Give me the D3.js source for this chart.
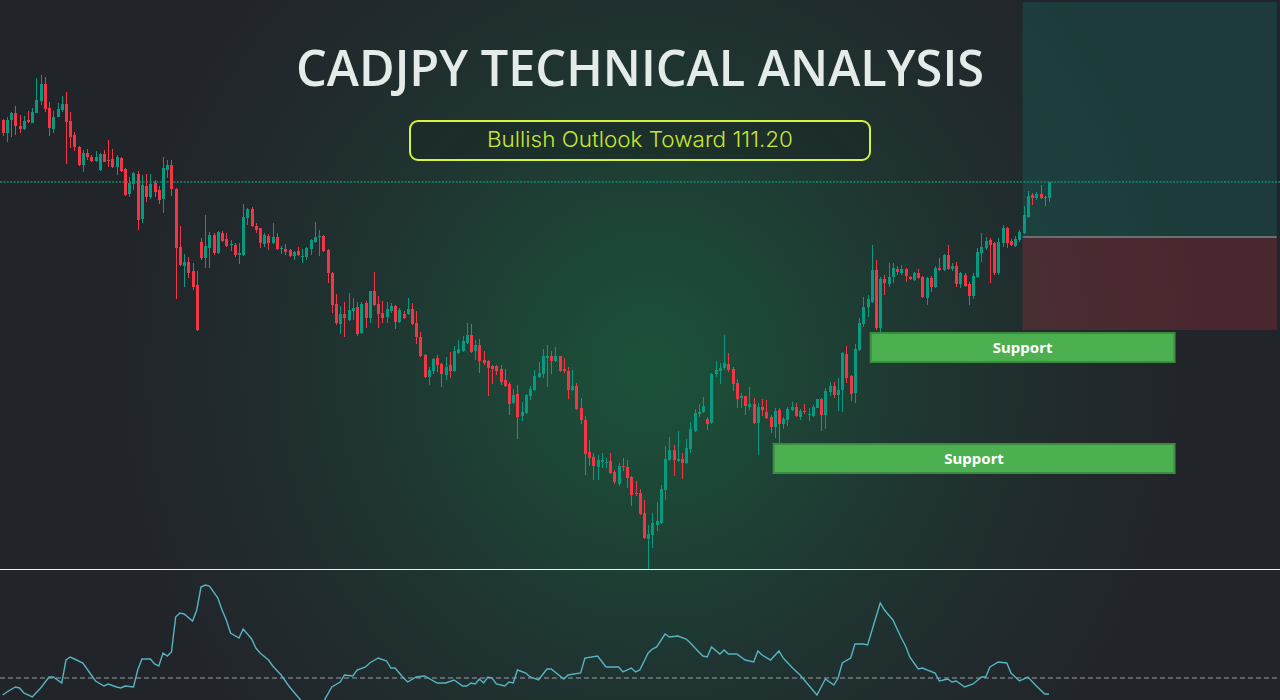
<!DOCTYPE html>
<html><head><meta charset="utf-8">
<script src="https://cdn.jsdelivr.net/npm/d3@7"></script>
<style>html,body{margin:0;padding:0;background:#212429;overflow:hidden}</style>
</head><body><svg id="c" width="1280" height="700"></svg>
<script>
// ---------- DATA (CADJPY candles, price in JPY) ----------
const openP = [
109.80,109.67,109.80,109.87,109.74,109.71,109.80,109.77,109.87,109.99,
110.16,109.92,109.71,109.83,109.90,109.96,109.79,109.65,109.53,109.35,
109.47,109.43,109.39,109.30,109.46,109.40,109.41,109.33,109.42,109.31,
109.06,109.16,109.26,108.81,109.14,109.03,109.17,109.10,109.01,109.30,
109.35,109.11,108.53,108.34,108.38,108.29,108.15,108.58,108.42,108.52,
108.65,108.47,108.67,108.61,108.55,108.55,108.45,108.45,108.82,108.91,
108.74,108.72,108.56,108.64,108.57,108.63,108.51,108.51,108.50,108.44,
108.49,108.43,108.43,108.51,108.58,108.63,108.64,108.50,108.27,107.96,
107.76,107.86,107.80,107.89,107.93,107.67,107.97,107.82,108.09,107.96,
107.87,107.83,107.89,107.94,107.78,107.86,107.86,107.91,107.77,107.63,
107.45,107.23,107.29,107.42,107.36,107.25,107.35,107.29,107.47,107.49,
107.57,107.65,107.49,107.55,107.40,107.39,107.34,107.34,107.31,107.20,
107.16,106.97,107.06,106.84,106.87,107.04,107.10,107.23,107.26,107.42,
107.44,107.39,107.44,107.31,107.29,107.10,107.14,106.92,106.80,106.48,
106.43,106.33,106.38,106.37,106.39,106.28,106.16,106.34,106.33,106.23,
106.07,106.07,105.87,105.61,105.65,105.75,105.77,106.10,106.40,106.50,
106.39,106.41,106.37,106.51,106.69,106.86,106.88,106.81,106.77,107.26,
107.29,107.32,107.36,107.31,107.17,107.02,107.04,106.93,106.96,106.77,
106.93,106.88,106.83,106.73,106.90,106.76,106.80,106.90,106.93,106.83,
106.89,106.85,106.84,106.92,107.01,106.85,107.08,107.14,107.05,107.10,
107.46,107.24,107.07,107.50,107.76,107.93,107.98,108.30,107.72,108.21,
108.16,108.23,108.31,108.27,108.31,108.23,108.20,108.27,108.23,108.02,
108.22,108.13,108.32,108.30,108.45,108.31,108.34,108.16,108.25,108.16,
108.04,108.23,108.47,108.52,108.60,108.57,108.27,108.57,108.72,108.59,
108.54,108.60,108.67,108.83,109.05,109.02,109.06,109.03,109.02];
const highP = [
109.81,109.83,109.88,109.94,109.85,109.84,109.89,109.92,110.22,110.25,
110.23,109.98,109.89,109.97,110.04,110.08,109.88,109.68,109.54,109.50,
109.51,109.45,109.49,109.47,109.50,109.60,109.51,109.45,109.43,109.32,
109.23,109.28,109.29,109.25,109.26,109.26,109.20,109.14,109.43,109.40,
109.40,109.12,108.74,108.46,108.43,108.37,108.29,108.62,108.85,108.68,
108.67,108.69,108.69,108.67,108.60,108.57,108.57,108.96,108.92,108.93,
108.77,108.72,108.67,108.66,108.77,108.67,108.54,108.56,108.51,108.49,
108.53,108.51,108.53,108.61,108.78,108.70,108.65,108.51,108.28,108.06,
107.94,107.98,108.07,108.02,107.98,107.98,107.99,108.09,108.28,108.04,
107.99,107.98,107.97,107.95,107.92,107.89,108.02,107.97,107.89,107.68,
107.46,107.33,107.42,107.45,107.37,107.43,107.48,107.54,107.60,107.64,
107.77,107.76,107.60,107.61,107.49,107.40,107.35,107.35,107.35,107.31,
107.18,107.11,107.15,106.98,107.06,107.14,107.30,107.38,107.51,107.55,
107.49,107.53,107.44,107.42,107.33,107.30,107.17,107.02,106.84,106.60,
106.47,106.45,106.47,106.42,106.47,106.30,106.37,106.42,106.40,106.24,
106.19,106.11,106.00,105.75,105.87,105.98,106.15,106.54,106.63,106.55,
106.69,106.47,106.61,106.78,106.91,106.96,107.03,106.83,107.27,107.39,
107.37,107.65,107.47,107.33,107.21,107.07,107.04,107.13,107.02,106.97,
107.01,107.00,106.85,106.92,106.92,106.83,106.93,106.98,106.97,106.91,
106.96,106.92,106.95,107.01,107.02,107.12,107.18,107.18,107.22,107.48,
107.54,107.25,107.56,107.82,108.03,108.05,108.55,108.40,108.23,108.25,
108.37,108.37,108.34,108.35,108.32,108.24,108.28,108.31,108.24,108.23,
108.24,108.34,108.42,108.46,108.55,108.37,108.38,108.28,108.27,108.18,
108.27,108.52,108.67,108.63,108.62,108.58,108.62,108.75,108.73,108.61,
108.64,108.70,108.94,109.09,109.07,109.08,109.15,109.04,109.18];
const lowP = [
109.64,109.58,109.63,109.65,109.67,109.70,109.77,109.77,109.87,109.95,
109.88,109.64,109.67,109.83,109.88,109.36,109.52,109.49,109.34,109.28,
109.40,109.38,109.38,109.29,109.38,109.33,109.32,109.25,109.28,109.04,
109.03,109.10,108.70,108.77,108.98,109.01,109.03,108.96,108.87,109.22,
109.04,108.01,108.34,108.13,108.22,108.10,107.69,108.40,108.32,108.32,
108.45,108.46,108.58,108.53,108.49,108.43,108.36,108.44,108.75,108.73,
108.67,108.52,108.53,108.50,108.56,108.50,108.46,108.45,108.43,108.40,
108.44,108.37,108.40,108.45,108.57,108.44,108.48,108.17,107.87,107.75,
107.66,107.63,107.79,107.80,107.64,107.66,107.72,107.77,107.94,107.72,
107.77,107.77,107.87,107.71,107.77,107.81,107.85,107.75,107.56,107.43,
107.22,107.15,107.26,107.28,107.13,107.20,107.22,107.28,107.46,107.48,
107.56,107.47,107.40,107.27,107.35,107.04,107.16,107.25,107.15,107.13,
106.85,106.96,106.61,106.79,106.86,107.00,107.09,107.22,107.22,107.13,
107.26,107.38,107.28,107.27,107.01,107.09,106.90,106.76,106.25,106.34,
106.20,106.20,106.32,106.32,106.26,106.16,106.14,106.29,106.12,105.94,
106.04,105.85,105.61,105.30,105.52,105.69,105.76,106.00,106.39,106.24,
106.38,106.21,106.36,106.47,106.68,106.83,106.87,106.70,106.76,107.23,
107.16,107.30,107.28,107.09,106.92,106.92,106.85,106.90,106.76,106.45,
106.84,106.81,106.67,106.62,106.53,106.71,106.74,106.89,106.83,106.80,
106.86,106.79,106.83,106.92,106.69,106.71,107.04,107.02,106.89,106.88,
107.17,106.99,106.97,107.49,107.73,107.83,107.97,107.70,107.57,108.05,
108.13,108.17,108.25,108.25,108.18,108.20,108.19,108.21,108.02,107.95,
108.08,108.12,108.29,108.29,108.30,108.29,108.13,108.12,108.13,107.95,
108.01,108.22,108.38,108.50,108.17,108.25,108.25,108.53,108.52,108.54,
108.53,108.58,108.66,108.82,108.95,109.00,109.01,108.94,108.98];
const closeP = [
109.67,109.80,109.87,109.74,109.71,109.79,109.78,109.88,110.00,110.16,
109.91,109.72,109.83,109.91,109.96,109.78,109.63,109.53,109.35,109.47,
109.43,109.39,109.43,109.46,109.38,109.39,109.33,109.43,109.29,109.05,
109.17,109.27,108.80,109.15,109.03,109.16,109.08,109.00,109.32,109.35,
109.11,108.52,108.35,108.38,108.27,108.13,107.70,108.42,108.54,108.65,
108.47,108.68,108.59,108.54,108.56,108.45,108.47,108.83,108.91,108.74,
108.70,108.57,108.65,108.57,108.63,108.51,108.52,108.48,108.44,108.48,
108.45,108.44,108.52,108.60,108.63,108.64,108.49,108.27,107.95,107.77,
107.86,107.82,107.90,107.92,107.66,107.96,107.82,108.09,107.95,107.86,
107.82,107.91,107.94,107.78,107.90,107.82,107.91,107.76,107.63,107.44,
107.23,107.30,107.41,107.35,107.26,107.33,107.29,107.49,107.51,107.59,
107.65,107.48,107.55,107.39,107.37,107.32,107.31,107.29,107.18,107.14,
106.96,107.05,106.83,106.88,107.05,107.11,107.24,107.27,107.44,107.44,
107.39,107.44,107.29,107.29,107.10,107.14,106.91,106.80,106.46,106.42,
106.34,106.40,106.40,106.38,106.27,106.18,106.34,106.33,106.22,106.05,
106.06,105.86,105.62,105.66,105.77,105.79,106.11,106.41,106.50,106.40,
106.41,106.37,106.52,106.71,106.87,106.88,106.94,106.76,107.26,107.30,
107.32,107.37,107.30,107.16,107.01,107.04,106.94,106.96,106.77,106.93,
106.90,106.82,106.73,106.89,106.76,106.81,106.91,106.93,106.84,106.89,
106.88,106.86,106.93,107.01,106.85,107.09,107.14,107.05,107.10,107.47,
107.22,107.06,107.51,107.77,107.93,108.01,108.30,107.72,108.21,108.17,
108.23,108.32,108.28,108.31,108.24,108.21,108.27,108.22,108.03,108.22,
108.13,108.32,108.30,108.45,108.31,108.34,108.16,108.27,108.14,108.04,
108.24,108.48,108.53,108.59,108.55,108.27,108.58,108.72,108.57,108.55,
108.61,108.68,108.85,109.04,109.02,109.06,109.02,109.02,109.18];

// Oscillator (lower pane): bar index and value
const oscIdx = [0,1,3,4,5,7,9,11,12,14,15,16,17,19,21,22,24,25,27,28,29,31,32,33,35,36,37,38,39,40,41,42,43,45,46,47,48,49,51,52,53,54,56,57,59,60,61,63,64,66,68,70,71,76,78,80,81,83,84,86,87,89,91,92,93,95,96,98,100,103,105,107,109,110,111,112,113,114,115,116,117,119,120,121,122,124,125,127,129,130,133,134,137,138,141,143,146,147,149,150,151,153,154,155,157,158,160,162,163,165,166,167,168,170,171,172,174,176,178,179,180,182,184,185,187,189,191,193,195,197,198,199,201,202,204,205,208,209,211,213,214,215,217,218,221,222,224,225,226,228,230,232,233,234,236,238,239,241,243,245,247,248];
const oscVal = [21.6,22.2,23.2,23.0,22.0,21.2,23.0,25.2,25.2,24.0,28.6,29.2,28.8,28.0,25.6,24.4,23.4,23.8,23.2,23.0,23.4,23.2,26.6,28.8,28.8,27.8,27.4,30.0,29.4,30.2,37.2,38.0,37.8,36.4,38.6,43.2,43.6,43.4,41.0,38.6,36.6,34.0,33.0,34.8,32.8,31.0,30.0,28.6,27.4,25.6,23.2,21.2,20.2,20.2,23.2,24.2,25.6,25.4,26.6,27.2,28.0,29.0,28.4,27.0,27.0,25.0,24.2,25.2,25.4,24.0,24.0,24.6,23.4,23.4,24.0,23.8,24.8,24.0,25.2,25.0,23.8,23.4,24.2,24.0,26.6,26.0,25.2,24.6,26.8,26.8,24.8,25.6,26.0,29.0,29.4,27.2,27.2,26.2,27.0,26.2,26.6,30.0,30.8,31.2,33.8,33.2,33.4,32.8,32.0,30.2,29.4,29.2,31.2,29.8,30.6,29.8,29.8,28.6,28.2,30.4,29.6,28.6,30.4,29.0,27.2,25.6,23.6,21.6,24.8,23.6,25.0,28.0,29.0,31.8,31.8,31.6,40.0,38.6,36.6,33.0,31.4,29.2,26.8,27.0,26.0,24.4,24.8,24.2,24.4,23.2,23.8,25.2,25.2,27.2,28.2,28.0,26.0,24.4,25.2,23.4,21.8,21.8];
const oscLevel = [25];

// Long position tool (target / entry / stop) and its bar span
const positionLevels = [110.98, 108.63, 107.70];
const positionSpan = [242, 302];

// Support zones
const supportLabels = ["Support", "Support"];
const supportTop = [107.68, 106.57];
const supportBottom = [107.37, 106.26];
const supportFrom = [205.5, 182.5];
const supportTo = [278, 278];

const titleText = "CADJPY TECHNICAL ANALYSIS";
const subtitleText = "Bullish Outlook Toward 111.20";

// ---------- DRAW ----------
const W = 1280, H = 700;
const svg = d3.select("#c");
const defs = svg.append("defs");
const rg = defs.append("radialGradient").attr("id","glow")
  .attr("gradientUnits","userSpaceOnUse").attr("cx",650).attr("cy",370).attr("r",560)
  .attr("gradientTransform","translate(650,370) scale(1,1.05) translate(-650,-370)");
[[0,"#1b5239"],[0.25,"#1d4536"],[0.5,"#1f3531"],[0.75,"#212a2d"],[1,"#212429"]]
  .forEach(([o,c]) => rg.append("stop").attr("offset",o).attr("stop-color",c));
svg.append("rect").attr("width",W).attr("height",H).attr("fill","#212429");
svg.append("rect").attr("width",W).attr("height",H).attr("fill","url(#glow)");

const n = closeP.length;
const x = d3.scaleLinear().domain([0, n-1]).range([2.7, 1049]);
const y = d3.scaleLinear().domain([111, 105.31]).range([0, 569]);
const yo = d3.scaleLinear().domain([20, 45]).range([703, 578]);

// position tool
const px0 = x(positionSpan[0]) - 1, px1 = x(positionSpan[1]);
svg.append("rect").attr("x",px0).attr("y",y(positionLevels[0])).attr("width",px1-px0)
  .attr("height",y(positionLevels[1])-y(positionLevels[0])).attr("fill","rgba(8,153,129,0.2)");
svg.append("rect").attr("x",px0).attr("y",y(positionLevels[1])).attr("width",px1-px0)
  .attr("height",y(positionLevels[2])-y(positionLevels[1])).attr("fill","rgba(242,54,69,0.2)");
svg.append("line").attr("x1",px0).attr("x2",px1).attr("y1",y(positionLevels[1])).attr("y2",y(positionLevels[1]))
  .attr("stroke","#6a7070").attr("stroke-width",2);

// current price dotted line
const cy = Math.round(y(closeP[n-1]));
svg.append("line").attr("x1",0).attr("x2",W).attr("y1",cy).attr("y2",cy)
  .attr("stroke","#0f8d74").attr("stroke-width",1.5).attr("stroke-dasharray","2,1.4");

// candles
const idx = d3.range(n);
const up = i => closeP[i] >= openP[i];
const g = svg.append("g");
g.selectAll("line.w").data(idx).join("line")
  .attr("x1", i => Math.round(x(i))+0.5).attr("x2", i => Math.round(x(i))+0.5)
  .attr("y1", i => y(highP[i])).attr("y2", i => y(lowP[i]))
  .attr("stroke", i => up(i) ? "#089981" : "#f23645").attr("stroke-width",1);
g.selectAll("rect.b").data(idx).join("rect")
  .attr("x", i => Math.round(x(i)) - 1).attr("width", 3)
  .attr("y", i => y(Math.max(openP[i], closeP[i])))
  .attr("height", i => Math.max(1, Math.abs(y(openP[i]) - y(closeP[i]))))
  .attr("fill", i => up(i) ? "#089981" : "#f23645");

// support zones
supportLabels.forEach((lab, k) => {
  const x0 = x(supportFrom[k]), x1 = x(supportTo[k]);
  const y0 = y(supportTop[k]), y1 = y(supportBottom[k]);
  svg.append("rect").attr("x",x0+1).attr("y",y0+1).attr("width",x1-x0-2).attr("height",y1-y0-2)
    .attr("fill","#4caf50").attr("stroke","#3b8c3f").attr("stroke-width",2);
  svg.append("text").attr("x",(x0+x1)/2).attr("y",(y0+y1)/2+5)
    .attr("text-anchor","middle").attr("fill","#ffffff")
    .attr("font-family","'Noto Sans', sans-serif").attr("font-weight",700).attr("font-size",15)
    .text(lab);
});

// pane separator
svg.append("line").attr("x1",0).attr("x2",W).attr("y1",569.5).attr("y2",569.5)
  .attr("stroke","#eef0f0").attr("stroke-width",1);

// oscillator pane
const clip = defs.append("clipPath").attr("id","oc");
clip.append("rect").attr("x",0).attr("y",570).attr("width",W).attr("height",130);
svg.append("line").attr("x1",0).attr("x2",W).attr("y1",yo(oscLevel[0])).attr("y2",yo(oscLevel[0]))
  .attr("stroke","#9a9ea3").attr("stroke-width",1).attr("stroke-dasharray","5,3");
const line = d3.line().x((d,i) => x(oscIdx[i])).y(d => yo(d));
svg.append("path").attr("clip-path","url(#oc)").attr("d", line(oscVal))
  .attr("fill","none").attr("stroke","#56b4c3").attr("stroke-width",1.4);

// title
svg.append("text").attr("x",640).attr("y",86).attr("text-anchor","middle")
  .attr("fill","#e4ebe8").attr("font-family","'Open Sans', sans-serif").attr("font-weight",600)
  .attr("font-size",50).attr("textLength",688).attr("lengthAdjust","spacingAndGlyphs")
  .text(titleText);

// subtitle
svg.append("rect").attr("x",410).attr("y",121).attr("width",460).attr("height",39).attr("rx",8)
  .attr("fill","rgba(25,38,34,0.5)").attr("stroke","#d4f53c").attr("stroke-width",2);
svg.append("text").attr("x",640).attr("y",147).attr("text-anchor","middle")
  .attr("fill","#c8e632").attr("font-family","Inter, sans-serif").attr("font-weight",300)
  .attr("font-size",22).attr("textLength",306).attr("lengthAdjust","spacingAndGlyphs")
  .text(subtitleText);
</script></body></html>
